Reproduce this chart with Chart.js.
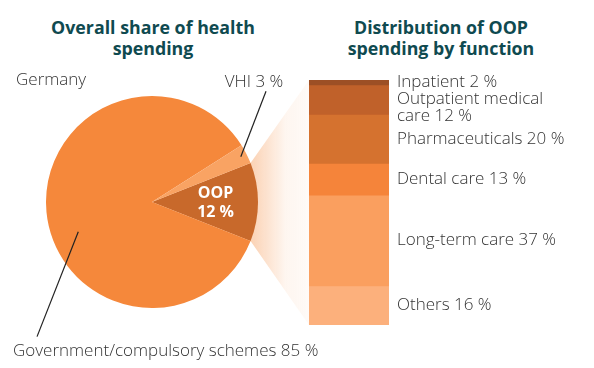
<!DOCTYPE html>
<html>
<head>
<meta charset="utf-8">
<script src="https://cdn.jsdelivr.net/npm/chart.js@4.4.1/dist/chart.umd.min.js"></script>
<style>
    html, body { margin: 0; padding: 0; background: #fff; }
    #wrap { position: relative; width: 594px; height: 368px; font-family: "Open Sans", sans-serif; }
    canvas { position: absolute; left: 0; top: 0; }
    .title { position: absolute; top: 17px; width: 260px; text-align: center; color: #0f4a50;
             font: bold 17.8px/21px "Open Sans", sans-serif; }
</style>
</head>
<body>
<div id="wrap">
    <div class="title" style="left:23px">Overall share of health<br>spending</div>
    <div class="title" style="left:311px">Distribution of OOP<br>spending by function</div>
    <canvas id="pieChart" width="594" height="368"></canvas>
    <canvas id="barChart" width="594" height="368"></canvas>
</div>
<script>
// Overall share of health spending (pie)
const pieLabels = ['OOP', 'Government/compulsory schemes', 'VHI'];
const pieShares = [12, 85, 3];
const pieColors = ['#c8692b', '#f5883b', '#f9a363'];
const countryName = 'Germany';

// Distribution of OOP spending by function (stacked bar)
const oopFunctions = ['Inpatient', 'Outpatient medical care', 'Pharmaceuticals', 'Dental care', 'Long-term care', 'Others'];
const oopShares = [2, 12, 20, 13, 37, 16];
const barColors = ['#9c4f25', '#c0612a', '#d5722f', '#f5843a', '#fa9f5f', '#fcb07c'];

const textFont = '300 17px "Open Sans", sans-serif';
const textColor = '#333';

function wrapText(ctx, text, maxWidth) {
    const words = text.split(' ');
    const lines = [];
    let line = '';
    words.forEach(w => {
        const test = line ? line + ' ' + w : w;
        if (ctx.measureText(test).width > maxWidth && line) {
            lines.push(line);
            line = w;
        } else {
            line = test;
        }
    });
    if (line) lines.push(line);
    return lines;
}

// labels to the right of the bar segments
const barLabelPlugin = {
    id: 'barLabels',
    afterDatasetsDraw(chart) {
        const ctx = chart.ctx;
        ctx.save();
        ctx.font = textFont;
        ctx.fillStyle = textColor;
        ctx.textBaseline = 'middle';
        const lineH = 17;
        let prevBottom = -Infinity;
        chart.data.datasets.forEach((ds, i) => {
            const el = chart.getDatasetMeta(i).data[0];
            const top = Math.min(el.y, el.base);
            const bottom = Math.max(el.y, el.base);
            const lines = wrapText(ctx, ds.label + ' ' + ds.data[0] + ' %', 176);
            const h = lines.length * lineH;
            let start = (top + bottom) / 2 - h / 2;
            if (start < prevBottom) start = prevBottom;
            const x = el.x + el.width / 2 + 8;
            lines.forEach((l, j) => ctx.fillText(l, x, start + lineH * j + lineH / 2));
            prevBottom = start + h;
        });
        ctx.restore();
    }
};

const barChart = new Chart(document.getElementById('barChart'), {
    type: 'bar',
    data: {
        labels: ['OOP'],
        datasets: oopFunctions.map((f, i) => ({
            label: f,
            data: [oopShares[i]],
            backgroundColor: barColors[i],
            borderWidth: 0,
            barPercentage: 1,
            categoryPercentage: 1
        }))
    },
    options: {
        responsive: false,
        animation: false,
        layout: { padding: { left: 309, right: 205, top: 80, bottom: 43 } },
        scales: {
            x: { display: false, stacked: true },
            y: { display: false, stacked: true, min: 0, max: 100, reverse: true }
        },
        plugins: { legend: { display: false }, tooltip: { enabled: false } }
    },
    plugins: [barLabelPlugin]
});

// light fan from the OOP wedge to the bar
const fanPlugin = {
    id: 'fan',
    beforeDatasetsDraw(chart) {
        const arc = chart.getDatasetMeta(0).data[0];
        const metas = barChart.data.datasets.map((d, i) => barChart.getDatasetMeta(i).data[0]);
        const first = metas[0], last = metas[metas.length - 1];
        const bx = first.x - first.width / 2;
        const bTop = Math.min(first.y, first.base);
        const bBottom = Math.max(last.y, last.base);
        const r = arc.outerRadius;
        const p1 = { x: arc.x + r * Math.cos(arc.startAngle), y: arc.y + r * Math.sin(arc.startAngle) };
        const p2 = { x: arc.x + r * Math.cos(arc.endAngle), y: arc.y + r * Math.sin(arc.endAngle) };
        const ctx = chart.ctx;
        const g = ctx.createLinearGradient(p1.x, 0, bx, 0);
        g.addColorStop(0, 'rgba(247,165,105,0.5)');
        g.addColorStop(0.6, 'rgba(247,165,105,0.1)');
        g.addColorStop(1, 'rgba(247,165,105,0.05)');
        ctx.save();
        ctx.fillStyle = g;
        ctx.beginPath();
        ctx.moveTo(arc.x, arc.y);
        ctx.lineTo(p1.x, p1.y);
        ctx.lineTo(bx, bTop);
        ctx.lineTo(bx, bBottom);
        ctx.lineTo(p2.x, p2.y);
        ctx.closePath();
        ctx.fill();
        ctx.restore();
    },
    afterDatasetsDraw(chart) {
        const ctx = chart.ctx;
        const meta = chart.getDatasetMeta(0);
        const oop = meta.data[0], gov = meta.data[1], vhi = meta.data[2];
        const R = oop.outerRadius;
        const pt = (el, ang, f) => ({ x: el.x + R * f * Math.cos(ang), y: el.y + R * f * Math.sin(ang) });
        ctx.save();
        // OOP label inside wedge
        const mid = (oop.startAngle + oop.endAngle) / 2;
        const c = pt(oop, mid, 0.6);
        ctx.fillStyle = '#fff';
        ctx.font = 'bold 16px "Open Sans", sans-serif';
        ctx.textAlign = 'center';
        ctx.textBaseline = 'middle';
        ctx.fillText(pieLabels[0], c.x, c.y - 9);
        ctx.fillText(pieShares[0] + ' %', c.x, c.y + 10);

        ctx.font = textFont;
        ctx.fillStyle = textColor;
        ctx.strokeStyle = '#222';
        ctx.lineWidth = 1.2;
        // VHI leader
        const vMid = (vhi.startAngle + vhi.endAngle) / 2;
        const v1 = pt(vhi, vMid, 0.94);
        const v2 = pt(vhi, vMid - 0.3, 1.5);
        ctx.beginPath(); ctx.moveTo(v1.x, v1.y); ctx.lineTo(v2.x, v2.y); ctx.stroke();
        ctx.textAlign = 'center';
        ctx.textBaseline = 'bottom';
        ctx.fillText(pieLabels[2] + ' ' + pieShares[2] + ' %', v2.x - 12, v2.y - 1);
        // Government leader
        const gAng = gov.endAngle - 2.96;
        const g1 = pt(gov, gAng, 0.75);
        const g2 = pt(gov, gAng - 0.48, 1.67);
        ctx.beginPath(); ctx.moveTo(g1.x, g1.y); ctx.lineTo(g2.x, g2.y); ctx.stroke();
        ctx.textAlign = 'left';
        ctx.textBaseline = 'top';
        ctx.fillText(pieLabels[1] + ' ' + pieShares[1] + ' %', g2.x - 24, g2.y + 6);
        // country
        ctx.textBaseline = 'middle';
        ctx.fillText(countryName, 16, 80);
        ctx.restore();
    }
};

new Chart(document.getElementById('pieChart'), {
    type: 'pie',
    data: {
        labels: pieLabels,
        datasets: [{ data: pieShares, backgroundColor: pieColors, borderWidth: 0 }]
    },
    options: {
        responsive: false,
        animation: false,
        rotation: 90 - pieShares[0] * 3.6 / 2,
        layout: { padding: { left: 46, right: 336, top: 96, bottom: 60 } },
        plugins: { legend: { display: false }, tooltip: { enabled: false } }
    },
    plugins: [fanPlugin]
});
</script>
</body>
</html>
